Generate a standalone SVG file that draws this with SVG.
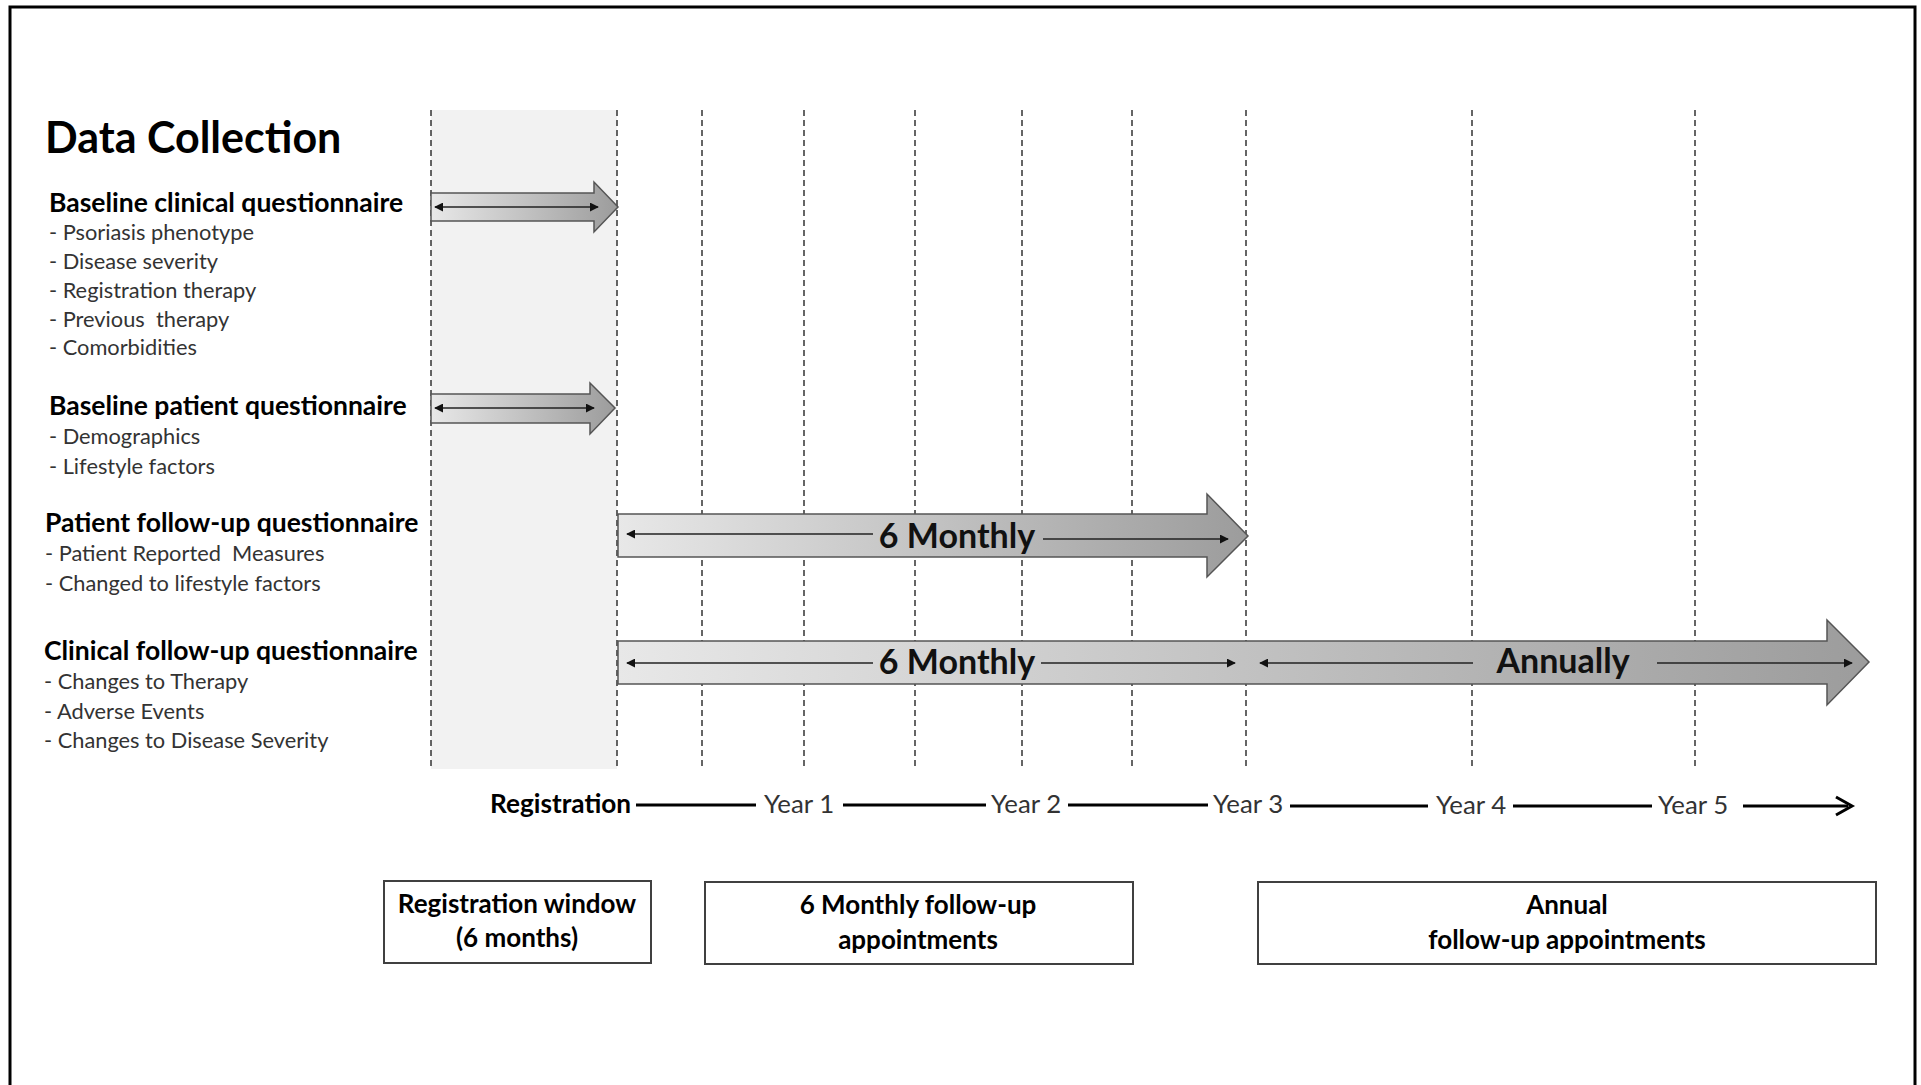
<svg xmlns="http://www.w3.org/2000/svg" width="1921" height="1085" viewBox="0 0 1921 1085">
<style>
text{font-family:Lato,"Liberation Sans",sans-serif;}
.title{font-size:43px;font-weight:bold;fill:#000;}
.head{font-size:26.5px;font-weight:bold;fill:#000;}
.item{font-size:21.8px;fill:#333;}
.big{font-size:34px;font-weight:bold;fill:#111;}
.year{font-size:25.8px;fill:#333;}
.reg{font-size:26.2px;font-weight:bold;fill:#000;}
.box{font-size:26px;font-weight:bold;fill:#000;text-anchor:middle;}
.grid{stroke:#333;stroke-width:1.5;stroke-dasharray:6 4;fill:none;}
.arr{fill:url(#g);stroke:#555;stroke-width:1.5;}
.inner{stroke:#222;stroke-width:1.6;fill:none;}
.axis{stroke:#000;stroke-width:3;fill:none;}
.bx{fill:#fff;stroke:#404040;stroke-width:2;}
</style>
<defs>
<linearGradient id="g" x1="0" y1="0" x2="1" y2="0">
<stop offset="0" stop-color="#e8e8e8"/>
<stop offset="1" stop-color="#9c9c9c"/>
</linearGradient>
<marker id="ah" viewBox="0 0 10 10" refX="9" refY="5" markerWidth="9" markerHeight="9" orient="auto-start-reverse" markerUnits="userSpaceOnUse">
<path d="M0,0 L10,5 L0,10 Z" fill="#111"/>
</marker>
</defs>
<rect x="0" y="0" width="1921" height="1085" fill="#fff"/>
<rect x="10" y="7" width="1905" height="1100" fill="none" stroke="#000" stroke-width="3"/>

<g id="registration-panel">
<rect x="431" y="110" width="186" height="659" fill="#f2f2f2"/>
</g>

<g id="gridlines">
<line class="grid" x1="431" y1="110" x2="431" y2="770"/>
<line class="grid" x1="617" y1="110" x2="617" y2="770"/>
<line class="grid" x1="702" y1="110" x2="702" y2="770"/>
<line class="grid" x1="804" y1="110" x2="804" y2="770"/>
<line class="grid" x1="915" y1="110" x2="915" y2="770"/>
<line class="grid" x1="1022" y1="110" x2="1022" y2="770"/>
<line class="grid" x1="1132" y1="110" x2="1132" y2="770"/>
<line class="grid" x1="1246" y1="110" x2="1246" y2="770"/>
<line class="grid" x1="1472" y1="110" x2="1472" y2="770"/>
<line class="grid" x1="1695" y1="110" x2="1695" y2="770"/>
</g>

<g id="title">
<text class="title" x="45" y="153">Data Collection</text>
</g>

<g id="baseline-clinical">
<text class="head" x="49" y="212">Baseline clinical questionnaire</text>
<text class="item" x="49" y="240">- Psoriasis phenotype</text>
<text class="item" x="49" y="269">- Disease severity</text>
<text class="item" x="49" y="298">- Registration therapy</text>
<text class="item" x="49" y="327" xml:space="preserve">- Previous  therapy</text>
<text class="item" x="49" y="355">- Comorbidities</text>
</g>

<g id="baseline-patient">
<text class="head" x="49" y="415">Baseline patient questionnaire</text>
<text class="item" x="49" y="444">- Demographics</text>
<text class="item" x="49" y="474">- Lifestyle factors</text>
</g>

<g id="patient-followup">
<text class="head" x="45" y="532">Patient follow-up questionnaire</text>
<text class="item" x="45" y="561" xml:space="preserve">- Patient Reported  Measures</text>
<text class="item" x="45" y="591">- Changed to lifestyle factors</text>
</g>

<g id="clinical-followup">
<text class="head" x="44" y="660">Clinical follow-up questionnaire</text>
<text class="item" x="44" y="689">- Changes to Therapy</text>
<text class="item" x="44" y="719">- Adverse Events</text>
<text class="item" x="44" y="748">- Changes to Disease Severity</text>
</g>

<g id="connectors">
<g id="arrow-baseline-clinical">
<path class="arr" d="M431,193 L594,193 L594,182 L618,207 L594,232 L594,221 L431,221 Z"/>
<line class="inner" x1="435" y1="207" x2="598" y2="207" marker-start="url(#ah)" marker-end="url(#ah)"/>
</g>
<g id="arrow-baseline-patient">
<path class="arr" d="M431,394 L590,394 L590,383 L615,408 L590,434 L590,423 L431,423 Z"/>
<line class="inner" x1="435" y1="408" x2="594" y2="408" marker-start="url(#ah)" marker-end="url(#ah)"/>
</g>
<g id="arrow-patient-followup">
<path class="arr" d="M618,514 L1207,514 L1207,494 L1248,536 L1207,577 L1207,557 L618,557 Z"/>
<line class="inner" x1="873" y1="534" x2="627" y2="534" marker-end="url(#ah)"/>
<line class="inner" x1="1043" y1="539" x2="1228" y2="539" marker-end="url(#ah)"/>
<text class="big" x="957" y="548" text-anchor="middle">6 Monthly</text>
</g>
<g id="arrow-clinical-followup">
<path class="arr" d="M618,641 L1827,641 L1827,620 L1869,662 L1827,705 L1827,684 L618,684 Z"/>
<line class="inner" x1="873" y1="663" x2="627" y2="663" marker-end="url(#ah)"/>
<line class="inner" x1="1041" y1="663" x2="1235" y2="663" marker-end="url(#ah)"/>
<line class="inner" x1="1473" y1="663" x2="1260" y2="663" marker-end="url(#ah)"/>
<line class="inner" x1="1657" y1="663" x2="1852" y2="663" marker-end="url(#ah)"/>
<text class="big" x="957" y="674" text-anchor="middle">6 Monthly</text>
<text class="big" x="1563" y="673" text-anchor="middle">Annually</text>
</g>
<g id="timeline">
<line class="axis" x1="636" y1="805" x2="756" y2="805"/>
<line class="axis" x1="843" y1="805" x2="986" y2="805"/>
<line class="axis" x1="1068" y1="805" x2="1208" y2="805"/>
<line class="axis" x1="1290" y1="806" x2="1428" y2="806"/>
<line class="axis" x1="1513" y1="806" x2="1652" y2="806"/>
<line class="axis" x1="1743" y1="806" x2="1848" y2="806"/>
<path d="M1836,797 L1852,806 L1836,815" fill="none" stroke="#000" stroke-width="3"/>
</g>
</g>

<g id="timeline-labels">
<text class="reg" x="490" y="813">Registration</text>
<text class="year" x="764" y="813">Year 1</text>
<text class="year" x="991" y="813">Year 2</text>
<text class="year" x="1213" y="813">Year 3</text>
<text class="year" x="1436" y="814">Year 4</text>
<text class="year" x="1658" y="814">Year 5</text>
</g>

<g id="box-registration-window">
<rect class="bx" x="384" y="881" width="267" height="82"/>
<text class="box" x="517" y="913">Registration window</text>
<text class="box" x="517" y="947">(6 months)</text>
</g>
<g id="box-6monthly">
<rect class="bx" x="705" y="882" width="428" height="82"/>
<text class="box" x="918" y="914">6 Monthly follow-up</text>
<text class="box" x="918" y="949">appointments</text>
</g>
<g id="box-annual">
<rect class="bx" x="1258" y="882" width="618" height="82"/>
<text class="box" x="1567" y="914">Annual</text>
<text class="box" x="1567" y="949">follow-up appointments</text>
</g>
</svg>
